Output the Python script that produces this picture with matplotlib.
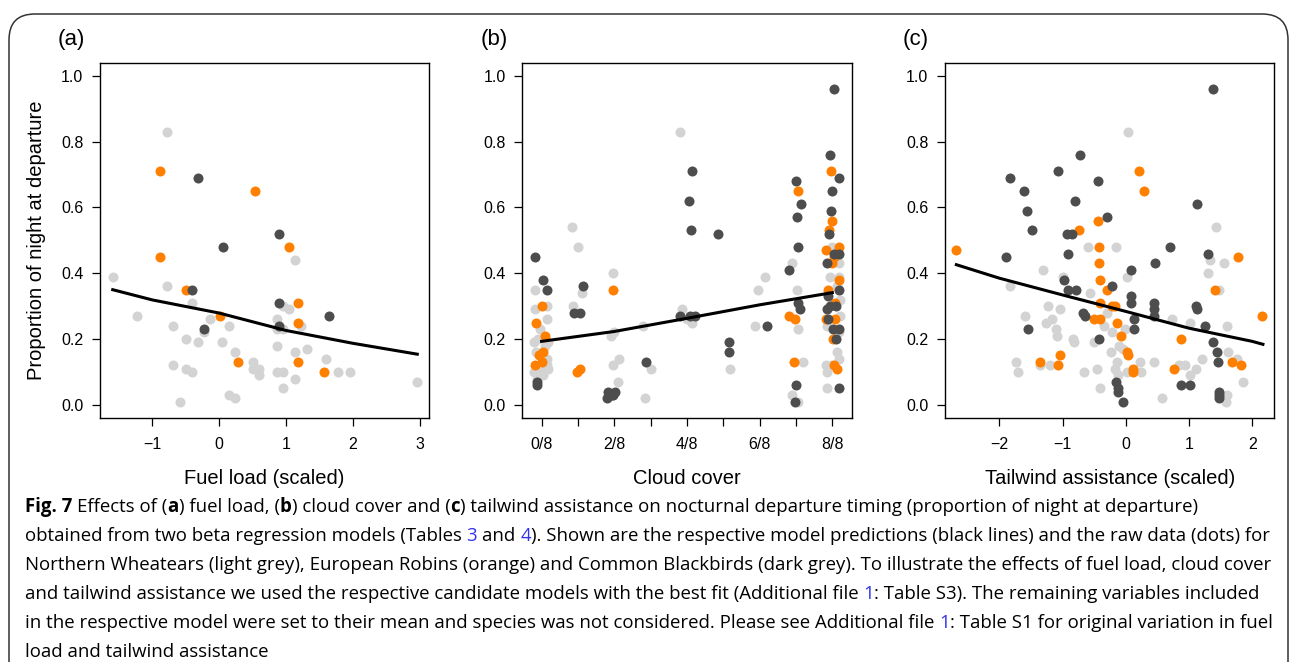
import numpy as np
import matplotlib
matplotlib.use('Agg')
import matplotlib.pyplot as plt
from matplotlib.patches import FancyBboxPatch
from matplotlib.transforms import IdentityTransform

# ---- (a) fuel load ----
a_light_x = [-1.59, -0.78, -0.78, -1.23, -0.69, -0.50, -0.32, -0.69, -0.50, -0.41, -0.59, -0.41, -0.23, -0.14,
             0.04, 0.14, 0.23, 0.14, 0.23, 0.50, 0.50, 0.59, 0.59, 0.87, 0.96, 0.96, 0.87, 0.87, 0.87, 0.96,
             1.04, 0.96, 1.13, 1.13, 1.13, 1.23, 1.32, 1.59, 1.78, 1.96, 2.96]
a_light_y = [0.39, 0.83, 0.36, 0.27, 0.24, 0.20, 0.19, 0.12, 0.11, 0.10, 0.01, 0.31, 0.22, 0.26,
             0.19, 0.24, 0.16, 0.03, 0.02, 0.13, 0.11, 0.11, 0.09, 0.10, 0.10, 0.05, 0.18, 0.26, 0.23, 0.30,
             0.29, 0.23, 0.44, 0.16, 0.08, 0.24, 0.17, 0.14, 0.10, 0.10, 0.07]
a_orange_x = [-0.88, -0.88, -0.50, 0.02, 0.28, 0.54, 1.05, 1.18, 1.18, 1.18, 1.57]
a_orange_y = [0.71, 0.45, 0.35, 0.27, 0.13, 0.65, 0.48, 0.31, 0.25, 0.13, 0.10]
a_dark_x = [-0.31, -0.41, -0.22, 0.06, 0.90, 0.90, 0.90, 1.64]
a_dark_y = [0.69, 0.35, 0.23, 0.48, 0.52, 0.31, 0.24, 0.27]
a_fit_x = [-1.59, -1, 0, 1, 2, 2.96]
a_fit_y = [0.350, 0.319, 0.279, 0.226, 0.187, 0.154]

# ---- (b) cloud cover (oktas, jittered) ----
b_light_x = [-0.17, -0.17, 0.16, 0.16, -0.05, -0.21, -0.09, 0.18, 0.09, -0.14, 0.14, -0.21, -0.05, 0.14,
             0.18, 0.05, -0.12, -0.05,
             0.83, 1.01, 0.87, 1.10,
             1.97, 1.90, 1.99, 2.13, 1.97, 2.11,
             2.80, 2.85, 3.02,
             3.81, 3.87, 4.15, 4.00,
             5.18,
             5.96, 6.15, 5.87,
             6.90, 7.02, 7.05, 7.18, 6.89, 7.06,
             7.98, 8.18, 7.94, 8.18, 8.12, 8.21, 7.85, 8.21, 8.17, 8.12, 8.17, 7.82, 7.86, 7.84, 7.98]
b_light_y = [0.35, 0.29, 0.30, 0.26, 0.23, 0.19, 0.20, 0.19, 0.18, 0.16, 0.14, 0.10, 0.11, 0.12,
             0.11, 0.09, 0.08, 0.10,
             0.54, 0.48, 0.30, 0.34,
             0.40, 0.21, 0.22, 0.14, 0.12, 0.07,
             0.24, 0.02, 0.11,
             0.83, 0.29, 0.25, 0.26,
             0.11,
             0.35, 0.39, 0.24,
             0.43, 0.35, 0.23, 0.13, 0.03, 0.01,
             0.48, 0.43, 0.39, 0.39, 0.36, 0.32, 0.24, 0.27, 0.22, 0.16, 0.14, 0.12, 0.10, 0.05, 0.12]
b_orange_x = [0.00, -0.14, 0.10, -0.19, 0.03, -0.08, 0.00,
              0.98, 1.06,
              1.97,
              7.05, 6.81, 6.97, 6.94,
              7.95, 7.98, 7.91, 7.82, 8.17, 7.98, 8.05, 8.17, 7.89, 8.07, 7.82, 8.07, 8.03, 8.05, 8.13]
b_orange_y = [0.30, 0.25, 0.21, 0.12, 0.16, 0.15, 0.13,
              0.10, 0.11,
              0.35,
              0.65, 0.27, 0.26, 0.13,
              0.71, 0.56, 0.53, 0.47, 0.48, 0.43, 0.45, 0.38, 0.35, 0.31, 0.26, 0.26, 0.20, 0.12, 0.11]
b_dark_x = [-0.17, 0.03, 0.16, -0.12, -0.12,
            1.13, 0.89, 1.07,
            1.81, 1.83, 1.93, 2.02, 1.97,
            2.87,
            4.13, 4.05, 4.11, 3.81, 4.08, 4.22,
            4.86, 5.17, 5.17,
            6.19,
            7.00, 7.02, 7.14, 7.05, 6.81, 7.06, 7.11, 7.00, 6.97,
            8.05, 7.94, 8.00, 8.18, 7.96, 7.91, 7.86, 8.05, 8.18, 8.18, 7.89, 7.85, 7.94, 8.10, 7.89,
            8.03, 8.19, 8.09, 8.18]
b_dark_y = [0.45, 0.38, 0.35, 0.07, 0.06,
            0.36, 0.28, 0.28,
            0.02, 0.04, 0.03, 0.04, 0.03,
            0.13,
            0.71, 0.62, 0.53, 0.27, 0.27, 0.27,
            0.52, 0.19, 0.16,
            0.24,
            0.68, 0.57, 0.61, 0.48, 0.41, 0.31, 0.29, 0.06, 0.01,
            0.96, 0.76, 0.65, 0.69, 0.59, 0.52, 0.43, 0.46, 0.46, 0.35, 0.33, 0.29, 0.30, 0.30, 0.26,
            0.23, 0.23, 0.20, 0.05]
b_fit_x = [0, 2, 4, 6, 8]
b_fit_y = [0.193, 0.223, 0.263, 0.304, 0.341]
b_ticks = [0, 1, 2, 3, 4, 5, 6, 7, 8]
b_ticklabels = ['0/8', '', '2/8', '', '4/8', '', '6/8', '', '8/8']

# ---- (c) tailwind assistance ----
c_light_x = [-1.83, -1.74, -1.70, -1.60, -1.31, -1.36, -1.23, -1.16, -1.26, -1.11, -1.09, -1.04, -1.20, -0.99,
             -0.84, -0.82, -0.66, -0.59, -0.56, -0.51, -0.45, -0.40, -0.35, -0.29, -0.24, -0.21, -0.15, -0.14,
             -0.17, -0.12, -0.10, -0.04, -0.01, 0.02, 0.04, 0.02, 0.22, 0.24, 0.44, 0.58, 0.73, 0.85, 0.94,
             1.02, 1.02, 1.11, 1.20, 1.30, 1.34, 1.43, 1.47, 1.55, 1.60, 1.61, 1.60, 1.58, 1.76, 1.85]
c_light_y = [0.36, 0.13, 0.10, 0.27, 0.41, 0.12, 0.30, 0.26, 0.25, 0.23, 0.21, 0.29, 0.12, 0.39,
             0.20, 0.19, 0.10, 0.48, 0.34, 0.19, 0.11, 0.05, 0.24, 0.28, 0.16, 0.22, 0.48, 0.13,
             0.11, 0.09, 0.18, 0.17, 0.23, 0.39, 0.83, 0.10, 0.13, 0.10, 0.13, 0.02, 0.26, 0.12, 0.12,
             0.25, 0.09, 0.11, 0.14, 0.40, 0.44, 0.54, 0.35, 0.43, 0.24, 0.16, 0.03, 0.01, 0.14, 0.07]
c_orange_x = [-2.68, -1.36, -1.08, -1.04, -0.74, -0.44, -0.42, -0.42, -0.41, -0.30, -0.41, -0.51, -0.40, -0.22,
              -0.17, -0.14, -0.07, 0.02, 0.04, 0.11, 0.12, 0.21, 0.29, 0.87, 0.77, 1.41, 1.78, 1.68, 1.83, 2.16]
c_orange_y = [0.47, 0.13, 0.12, 0.15, 0.53, 0.56, 0.48, 0.43, 0.38, 0.35, 0.31, 0.26, 0.26, 0.30,
              0.30, 0.25, 0.21, 0.16, 0.15, 0.11, 0.10, 0.71, 0.65, 0.20, 0.11, 0.35, 0.45, 0.13, 0.12, 0.27]
c_dark_x = [-1.83, -1.61, -1.57, -1.49, -1.90, -1.54, -1.07, -0.72, -0.81, -0.93, -0.85, -0.91, -0.98, -0.91,
            -0.78, -0.68, -0.64, -0.44, -0.30, -0.21, -0.43, 0.09, 0.09, 0.09, 0.13, 0.13, -0.15, -0.13,
            -0.12, -0.05, 0.46, 0.45, 0.45, 0.45, 0.70, 1.12, 1.11, 1.13, 1.25, 0.87, 1.02, 1.30, 1.38,
            1.38, 1.45, 1.46, 1.48, 1.48, 1.48]
c_dark_y = [0.69, 0.65, 0.59, 0.53, 0.45, 0.23, 0.71, 0.76, 0.62, 0.52, 0.52, 0.46, 0.38, 0.35,
            0.35, 0.28, 0.27, 0.68, 0.57, 0.36, 0.20, 0.41, 0.33, 0.31, 0.26, 0.23, 0.07, 0.05,
            0.04, 0.01, 0.43, 0.31, 0.29, 0.27, 0.48, 0.61, 0.30, 0.29, 0.24, 0.06, 0.06, 0.46, 0.96,
            0.19, 0.16, 0.13, 0.04, 0.03, 0.02]
c_fit_x = [-2.68, -2, -1, 0, 1, 2, 2.17]
c_fit_y = [0.426, 0.385, 0.334, 0.284, 0.233, 0.193, 0.184]

LIGHT = '#d3d3d3'
ORANGE = '#ff7f00'
DARK = '#4d4d4d'
axfont = ['Liberation Sans', 'DejaVu Sans']
capfont = ['Open Sans', 'DejaVu Sans']

W, H = 1290, 662
fig = plt.figure(figsize=(W / 100, H / 100), dpi=100)

# rounded frame around the figure
frame = FancyBboxPatch((9 / W, -0.2), 1279 / W, 1.2 - 14 / H,
                       boxstyle='round,pad=0,rounding_size=0.02', transform=fig.transFigure,
                       fill=False, edgecolor='#333333', linewidth=1.1, mutation_aspect=W / H)
fig.patches.append(frame)

panels = [
    (a_light_x, a_light_y, a_orange_x, a_orange_y, a_dark_x, a_dark_y, a_fit_x, a_fit_y,
     [-1, 0, 1, 2, 3], ['\u22121', '0', '1', '2', '3'], (-1.78, 3.14), 'Fuel load (scaled)', '(a)', 100),
    (b_light_x, b_light_y, b_orange_x, b_orange_y, b_dark_x, b_dark_y, b_fit_x, b_fit_y,
     b_ticks, b_ticklabels, (-0.53, 8.53), 'Cloud cover', '(b)', 522.3),
    (c_light_x, c_light_y, c_orange_x, c_orange_y, c_dark_x, c_dark_y, c_fit_x, c_fit_y,
     [-2, -1, 0, 1, 2], ['\u22122', '\u22121', '0', '1', '2'], (-2.86, 2.35), 'Tailwind assistance (scaled)', '(c)', 945),
]

ax_w, ax_top, ax_bot = 329.3, 62.7, 418
for (lx, ly, ox, oy, dx, dy, fx, fy, ticks, labels, xlim, xlab, tag, left) in panels:
    ax = fig.add_axes([left / W, 1 - ax_bot / H, ax_w / W, (ax_bot - ax_top) / H])
    ax.scatter(lx, ly, s=52, color=LIGHT, linewidths=0, zorder=2)
    ax.scatter(ox, oy, s=52, color=ORANGE, linewidths=0, zorder=3)
    ax.scatter(dx, dy, s=52, color=DARK, linewidths=0, zorder=4)
    ax.plot(fx, fy, color='black', lw=2.2, zorder=5)
    ax.set_xlim(*xlim)
    ax.set_ylim(-0.04, 1.04)
    ax.set_xticks(ticks)
    ax.set_xticklabels(labels)
    ax.set_yticks([0, 0.2, 0.4, 0.6, 0.8, 1.0])
    ax.set_yticklabels(['0.0', '0.2', '0.4', '0.6', '0.8', '1.0'])
    ax.tick_params(length=6, width=0.9, labelsize=11.5, color='black', direction='out')
    ax.tick_params(axis='x', pad=8)
    ax.tick_params(axis='y', pad=6)
    for lab in ax.get_xticklabels() + ax.get_yticklabels():
        lab.set_family(axfont)
    for sp in ax.spines.values():
        sp.set_linewidth(1.0)
    cx = (left + ax_w / 2) / W
    fig.text(cx, 1 - 478 / H, xlab, ha='center', va='center', fontsize=14.5, family=axfont)
    fig.text((left - 42) / W, 1 - 40 / H, tag, ha='left', va='center', fontsize=16, family=axfont)

fig.text(37 / W, 1 - 240 / H, 'Proportion of night at departure', rotation=90,
         ha='center', va='center', fontsize=14.5, family=axfont)

# caption with bold and blue fragments
N, B, L = ('normal', 'black'), ('bold', 'black'), ('normal', '#3333ee')
caption = [
    [('Fig. 7 ', B), ('Effects of (', N), ('a', B), (') fuel load, (', N), ('b', B), (') cloud cover and (', N),
     ('c', B), (') tailwind assistance on nocturnal departure timing (proportion of night at departure)', N)],
    [('obtained from two beta regression models (Tables ', N), ('3 ', L), ('and ', N), ('4', L),
     ('). Shown are the respective model predictions (black lines) and the raw data (dots) for', N)],
    [('Northern Wheatears (light grey), European Robins (orange) and Common Blackbirds (dark grey). '
      'To illustrate the effects of fuel load, cloud cover', N)],
    [('and tailwind assistance we used the respective candidate models with the best fit (Additional file ', N),
     ('1', L), (': Table S3). The remaining variables included', N)],
    [('in the respective model were set to their mean and species was not considered. Please see Additional file ', N),
     ('1', L), (': Table S1 for original variation in fuel', N)],
    [('load and tailwind assistance', N)],
]
renderer = fig.canvas.get_renderer()
for i, parts in enumerate(caption):
    x = 25
    y = H - (512 + 29 * i)
    for txt, (wt, col) in parts:
        t = fig.text(x, y, txt, transform=IdentityTransform(), fontsize=13.4, weight=wt,
                     color=col, family=capfont, ha='left', va='baseline')
        x = t.get_window_extent(renderer).x1

fig.savefig('out.png', dpi=100)
